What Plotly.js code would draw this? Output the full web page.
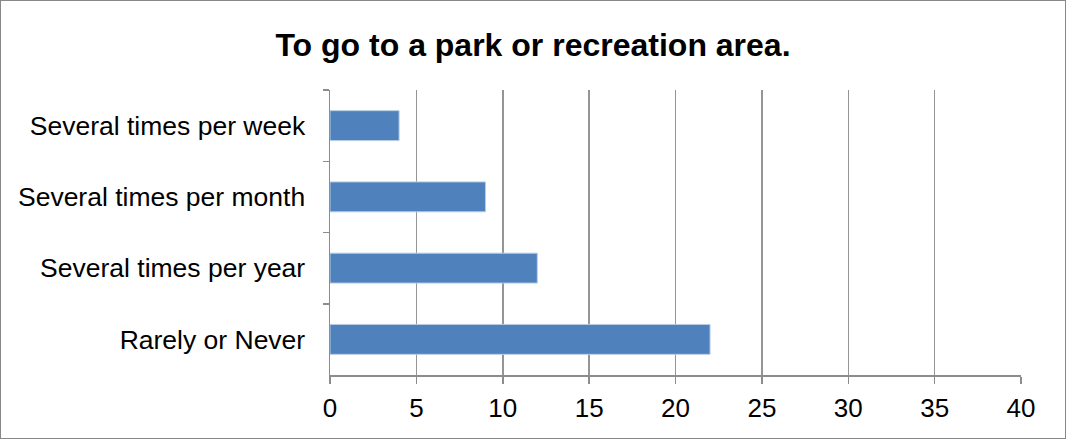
<!DOCTYPE html>
<html>
<head>
<meta charset="utf-8">
<script src="https://cdn.plot.ly/plotly-3.0.1.min.js"></script>
<style>
html,body{margin:0;padding:0;background:#fff;}
#wrap{width:1066px;height:439px;box-sizing:border-box;border:1px solid #888;overflow:hidden;}
#chart{width:1064px;height:437px;}
</style>
</head>
<body>
<div id="wrap"><div id="chart"></div></div>
<script>
const categories = ["Several times per week", "Several times per month", "Several times per year", "Rarely or Never"];
const values = [4, 9, 12, 22];
const xTicks = [0, 5, 10, 15, 20, 25, 30, 35, 40];
const titleText = "To go to a park or recreation area.";

const trace = {
  type: "bar",
  orientation: "h",
  y: categories,
  x: values,
  width: 0.42,
  marker: {color: "#4F81BD", line: {color: "#B9CDE5", width: 1}},
  hoverinfo: "x+y"
};

const layout = {
  width: 1064,
  height: 437,
  margin: {l: 329, r: 44, t: 89, b: 63, pad: 0},
  paper_bgcolor: "#fff",
  plot_bgcolor: "#fff",
  showlegend: false,
  font: {family: "Liberation Sans, Arial, sans-serif", size: 26.5, color: "#000"},
  title: {text: "<b>" + titleText + "</b>", font: {family: "Liberation Sans, Arial, sans-serif", size: 32, color: "#000"}, x: 0.5, xanchor: "center", y: 0.9, yanchor: "middle", yref: "container"},
  xaxis: {
    range: [0, 40],
    tickvals: xTicks,
    ticktext: xTicks.map(String),
    showgrid: true,
    gridcolor: "#959595",
    gridwidth: 1.5,
    showline: true,
    linecolor: "#8c8c8c",
    linewidth: 1.5,
    ticks: "outside",
    ticklen: 7,
    tickcolor: "#8c8c8c",
    tickwidth: 1.5,
    zeroline: false,
    fixedrange: true,
    ticklabelstandoff: 2,
    tickfont: {size: 26}
  },
  yaxis: {
    type: "category",
    autorange: "reversed",
    showline: true,
    linecolor: "#8c8c8c",
    linewidth: 1.5,
    ticks: "outside",
    tickson: "boundaries",
    ticklen: 6,
    tickcolor: "#8c8c8c",
    tickwidth: 1.5,
    showgrid: false,
    zeroline: false,
    fixedrange: true,
    ticklabelstandoff: 18,
    tickfont: {size: 26.5}
  }
};

Plotly.newPlot("chart", [trace], layout, {displayModeBar: false, staticPlot: true});
</script>
</body>
</html>
